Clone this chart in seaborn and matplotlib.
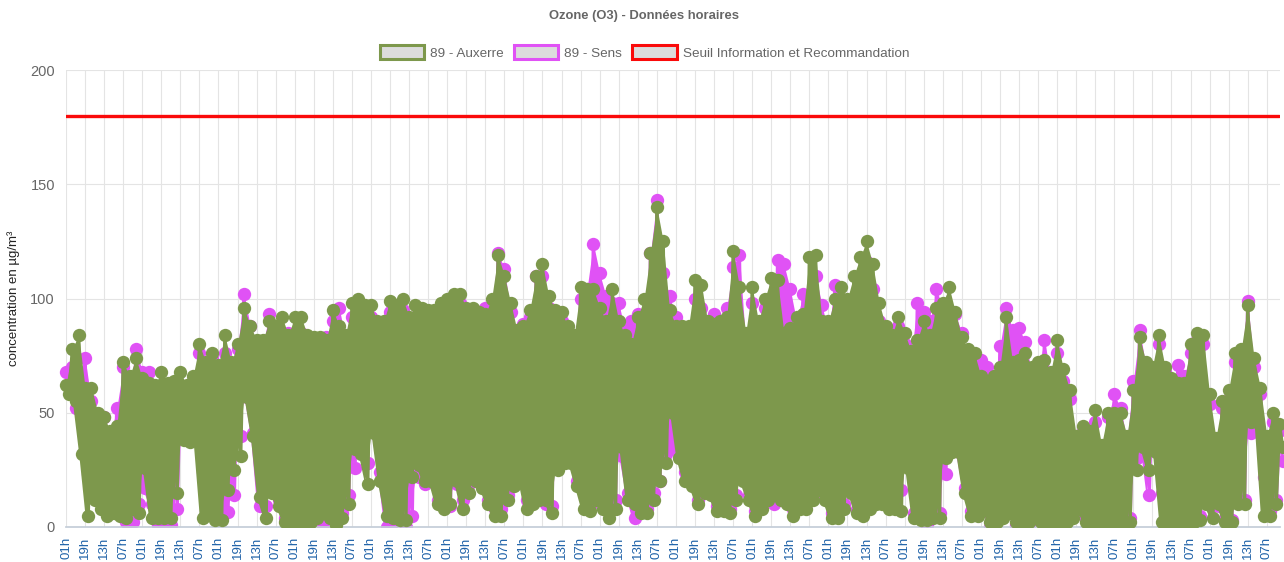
import numpy as np
import pandas as pd
import seaborn as sns
import matplotlib.pyplot as plt
from matplotlib.patches import Patch, Rectangle

aux_high = [62,78,84, 61,61,50, 48,42,44, 72,66,74,
            65,63,62, 68,63,64, 68,62,66, 80,72,76,
            71,84,72, 80,96,88, 82,82,90, 88,92,84,
            92,92,84, 83,83,82, 95,88,84, 98,100,97,
            97,90,90, 99,97,100, 92,97,96, 95,95,98,
            100,102,102, 96,96,94, 93,100,119, 110,98,86,
            88,95,110, 115,101,95, 94,88,84, 105,104,104,
            96,90,104, 90,84,80, 92,100,120, 140,125,95,
            88,88,88, 108,106,90, 89,90,92, 121,105,85,
            105,90,100, 109,108,85, 87,92,93, 118,119,90,
            90,100,105, 100,110,118, 125,115,98, 88,84,92,
            85,77,82, 90,84,96, 98,105,94, 83,78,76,
            66,64,66, 70,92,72, 73,76,70, 72,73,68,
            82,69,60, 40,44,42, 51,36,50, 50,50,40,
            60,83,72, 70,84,70, 65,63,63, 80,85,84,
            58,39,55, 60,76,78, 97,74,61, 40,50,45]
aux_low = [58,55,32, 5,12,8, 5,6,5, 4,8,6,
           26,4,4, 4,4,15, 38,37,38, 4,7,3,
           3,16,25, 31,57,40, 13,4,15, 9,2,2,
           2,2,2, 4,6,4, 1,4,10, 34,32,19,
           41,20,5, 4,3,3, 22,27,20, 20,10,8,
           10,20,8, 15,20,17, 10,5,5, 12,18,22,
           8,10,12, 12,6,25, 28,28,18, 8,7,12,
           8,4,8, 35,12,10, 6,6,12, 20,28,50,
           30,20,18, 10,15,14, 7,7,6, 12,20,12,
           5,8,12, 14,12,10, 5,8,8, 12,16,12,
           4,4,8, 15,6,5, 8,10,10, 8,8,7,
           26,4,3, 3,4,4, 30,33,33, 15,5,5,
           8,2,2, 4,6,2, 2,2,4, 2,2,2,
           2,2,4, 8,2,2, 2,2,2, 2,2,2,
           25,35,25, 33,2,2, 2,2,2, 2,3,10,
           4,10,2, 2,10,10, 46,46,5, 5,10,35]
sens_high = [68,70,66, 74,55,46, 48,40,52, 70,60,78,
             68,68,60, 58,60,60, 60,60,64, 76,70,74,
             66,76,70, 78,102,88, 78,80,93, 86,84,85,
             85,85,80, 80,80,83, 90,96,82, 92,95,92,
             92,86,88, 94,92,95, 90,92,90, 90,92,94,
             95,96,98, 92,92,90, 96,96,120, 113,94,84,
             89,92,110, 110,96,92, 90,85,80, 100,104,124,
             111,101,98, 98,86,90, 93,88,120, 143,111,101,
             92,84,84, 100,96,88, 93,90,96, 114,119,80,
             98,85,96, 100,117,115, 104,90,102, 95,110,97,
             85,106,100, 95,100,108, 116,104,90, 84,82,88,
             80,74,98, 94,90,104, 96,94,93, 85,74,70,
             73,70,62, 79,96,86, 87,81,68, 68,82,66,
             76,64,56, 38,42,38, 46,34,48, 58,52,38,
             64,86,70, 65,80,68, 62,71,66, 76,82,80,
             54,36,52, 56,72,74, 99,70,58, 36,46,42]
sens_low = [62,52,50, 23,15,12, 6,10,6, 2,2,10,
            17,10,1, 1,1,8, 40,40,40, 24,6,8,
            5,6.5,14, 40,57,41, 9,9,48, 12,4,1,
            0,3,6, 9,0,5, 3,6,14, 26,38,28,
            42,24,0, 2,6,0, 5,22,19, 25,12,10,
            9,19,12, 19,23,19, 12,8,8, 14,20,22,
            12,17,14, 10,9,28, 31,31,20, 15,9,14,
            10,8,12, 31,15,4, 15,8,15, 20,32,35,
            32,24,20, 12,16,16, 9,9,8, 14,24,14,
            7,10,14, 10,14,12, 8,10,10, 14,18,14,
            6,6,10, 18,8,7, 10,12,12, 9,9,16,
            39,6,5, 1,5,6, 23,35,33, 17,7,7,
            10,0,4, 17,8,1, 1,1,12, 5,1,3,
            3,4,4.5, 10,4,4, 4,4,4, 4,4,4,
            30,36,14, 36,15,4, 4,4,4, 5,5,12,
            9,9,4, 3,12,12, 41,44,22, 7,12,29]

threshold = 180
y_ticks = [0, 50, 100, 150, 200]
tick_labels = ["01h", "19h", "13h", "07h"] * 16

AUX = "#7d984c"
SENS = "#e052f5"
RED = "#fa0a0a"
GRID = "#e4e4e4"


def zigzag(highs, lows):
    # hourly swing: one peak then one trough, 3 hours apart
    vals = [v for pair in zip(highs, lows) for v in pair]
    return pd.DataFrame({"hour": np.arange(len(vals)) * 3, "value": vals})


sns.set_theme(style="white")
plt.rcParams["font.family"] = ["Liberation Sans", "DejaVu Sans"]

fig = plt.figure(figsize=(12.84, 5.62), dpi=100)
ax = fig.add_axes([66 / 1284, 1 - 527 / 562, 1214 / 1284, 457 / 562])

ax.grid(True, color=GRID, lw=0.8)
ax.set_axisbelow(True)

# points spill over the sides and top of the plot area but stop at the zero line
clip = Rectangle((-0.02, 0), 1.04, 1.1, transform=ax.transAxes)

z = 2
for highs, lows, col in [(sens_high, sens_low, SENS), (aux_high, aux_low, AUX)]:
    swing = zigzag(highs, lows)
    # the hourly line is so dense it reads as a solid band between the two edges
    band = ax.fill_between(swing["hour"][::2], lows, highs, color=col, lw=0, zorder=z)
    band.set_clip_path(clip)
    sns.lineplot(data=swing, x="hour", y="value", estimator=None, sort=False, zorder=z,
                 color=col, lw=2.4, marker="o", markersize=9.6, markeredgewidth=0, ax=ax)
    z += 1

for line in ax.get_lines():
    line.set_clip_path(clip)

ax.plot([0, 1146], [threshold, threshold], color=RED, lw=2.4, zorder=5)

ax.set_xlim(0, 1146.5)
ax.set_ylim(0, 200)
ax.set_xticks(np.arange(len(tick_labels)) * 18)
ax.set_xticklabels(tick_labels, rotation=90, fontsize=9.5, color="#1f62a8")
ax.set_yticks(y_ticks)
ax.set_yticklabels(y_ticks, fontsize=10.5, color="#666666")
ax.tick_params(axis="y", length=6, width=0.8, color=GRID, pad=2)
ax.tick_params(axis="x", length=4, width=0.8, color=GRID, pad=3)
sns.despine(ax=ax, left=True, top=True, right=True)
ax.spines["bottom"].set_color("#c4cdd8")
ax.set_xlabel("")
ax.set_ylabel("concentration en µg/m³", fontsize=9.5, color="#222222")
ax.yaxis.set_label_coords(-0.038, 0.5)

fig.text(644 / 1284, 1 - 16.5 / 562, "Ozone (O3) - Données horaires", ha="center", va="center",
         fontsize=9.4, fontweight="bold", color="#666666")

handles = [Patch(facecolor="#dcdcdc", edgecolor=AUX, lw=2.2, label="89 - Auxerre"),
           Patch(facecolor="#dcdcdc", edgecolor=SENS, lw=2.2, label="89 - Sens"),
           Patch(facecolor="#dcdcdc", edgecolor=RED, lw=2.2, label="Seuil Information et Recommandation")]
fig.legend(handles=handles, loc="center", bbox_to_anchor=(644.5 / 1284, 1 - 52.5 / 562), ncol=3, frameon=False,
           fontsize=9.7, handlelength=3.3, handleheight=1.15, handletextpad=0.45, columnspacing=0.75,
           labelcolor="#666666", borderpad=0)

fig.savefig("out.png", dpi=100)
